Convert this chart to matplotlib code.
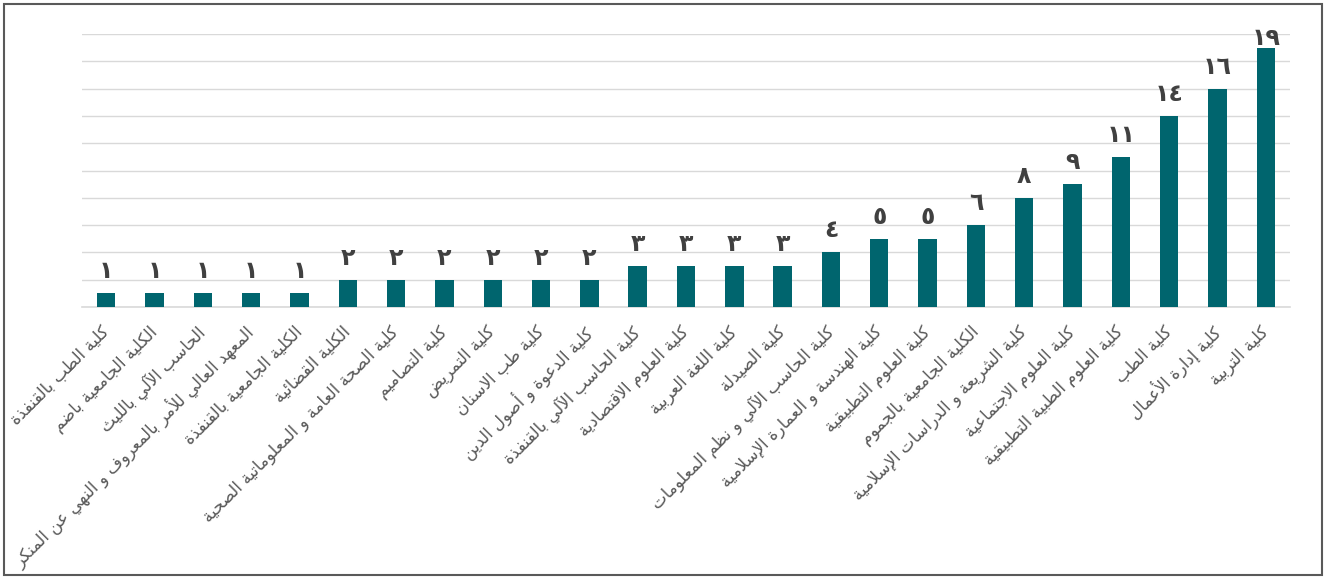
import matplotlib
matplotlib.use("Agg")
import matplotlib.pyplot as plt
from matplotlib.patches import Rectangle

# ---------------- data ----------------
categories = [
    "كلية الطب بالقنفذة",
    "الكلية الجامعية باضم",
    "الحاسب الآلي بالليث",
    "المعهد العالي للأمر بالمعروف و النهي عن المنكر",
    "الكلية الجامعية بالقنفذة",
    "الكلية القضائية",
    "كلية الصحة العامة و المعلوماتية الصحية",
    "كلية التصاميم",
    "كلية التمريض",
    "كلية طب الاسنان",
    "كلية الدعوة و أصول الدين",
    "كلية الحاسب الآلي بالقنفذة",
    "كلية العلوم الاقتصادية",
    "كلية اللغة العربية",
    "كلية الصيدلة",
    "كلية الحاسب الآلي و نظم المعلومات",
    "كلية الهندسة و العمارة الإسلامية",
    "كلية العلوم التطبيقية",
    "الكلية الجامعية بالجموم",
    "كلية الشريعة و الدراسات الإسلامية",
    "كلية العلوم الاجتماعية",
    "كلية العلوم الطبية التطبيقية",
    "كلية الطب",
    "كلية إدارة الأعمال",
    "كلية التربية",
]
values = [1, 1, 1, 1, 1, 2, 2, 2, 2, 2, 2, 3, 3, 3, 3, 4, 5, 5, 6, 8, 9, 11, 14, 16, 19]

# ---------------- Arabic shaping (presentation forms) ----------------
TABLE = {
    '\u0621': (0xFE80, 1), '\u0622': (0xFE81, 2), '\u0623': (0xFE83, 2),
    '\u0624': (0xFE85, 2), '\u0625': (0xFE87, 2), '\u0626': (0xFE89, 4),
    '\u0627': (0xFE8D, 2), '\u0628': (0xFE8F, 4), '\u0629': (0xFE93, 2),
    '\u062A': (0xFE95, 4), '\u062B': (0xFE99, 4), '\u062C': (0xFE9D, 4),
    '\u062D': (0xFEA1, 4), '\u062E': (0xFEA5, 4), '\u062F': (0xFEA9, 2),
    '\u0630': (0xFEAB, 2), '\u0631': (0xFEAD, 2), '\u0632': (0xFEAF, 2),
    '\u0633': (0xFEB1, 4), '\u0634': (0xFEB5, 4), '\u0635': (0xFEB9, 4),
    '\u0636': (0xFEBD, 4), '\u0637': (0xFEC1, 4), '\u0638': (0xFEC5, 4),
    '\u0639': (0xFEC9, 4), '\u063A': (0xFECD, 4), '\u0641': (0xFED1, 4),
    '\u0642': (0xFED5, 4), '\u0643': (0xFED9, 4), '\u0644': (0xFEDD, 4),
    '\u0645': (0xFEE1, 4), '\u0646': (0xFEE5, 4), '\u0647': (0xFEE9, 4),
    '\u0648': (0xFEED, 2), '\u0649': (0xFEEF, 2), '\u064A': (0xFEF1, 4),
}
LAMALEF = {'\u0622': 0xFEF5, '\u0623': 0xFEF7, '\u0625': 0xFEF9, '\u0627': 0xFEFB}


def shape(text):
    chars = list(text)
    n = len(chars)
    out = []
    i = 0

    def joins_next(c):
        return c in TABLE and TABLE[c][1] == 4

    while i < n:
        c = chars[i]
        if c not in TABLE:
            out.append(c)
            i += 1
            continue
        prev = chars[i - 1] if i > 0 else None
        prev_j = prev is not None and joins_next(prev)
        if c == '\u0644' and i + 1 < n and chars[i + 1] in LAMALEF:
            base = LAMALEF[chars[i + 1]]
            out.append(chr(base + (1 if prev_j else 0)))
            i += 2
            continue
        start, cnt = TABLE[c]
        nxt = chars[i + 1] if i + 1 < n else None
        next_j = cnt == 4 and nxt is not None and nxt in TABLE and nxt != '\u0621'
        if cnt == 1:
            form = start
        elif prev_j and next_j:
            form = start + 3
        elif prev_j:
            form = start + 1
        elif next_j:
            form = start + 2
        else:
            form = start
        out.append(chr(form))
        i += 1
    return ''.join(reversed(out))


def arabic_digits(v):
    return ''.join(chr(0x0660 + int(d)) for d in str(v))


# ---------------- plot ----------------
plt.rcParams['font.family'] = ['DejaVu Sans']
W, H = 1326, 579
fig = plt.figure(figsize=(W / 100, H / 100), dpi=100)
ax = fig.add_axes([82 / W, 1 - 307 / H, (1290 - 82) / W, (307 - 34) / H])

x = list(range(len(values)))
ax.bar(x, values, width=0.38, color='#00656E', zorder=3)

YMAX = 20
ax.set_xlim(-0.5, len(values) - 0.5)
ax.set_ylim(0, YMAX)
ax.set_yticks(range(0, YMAX + 1, 2))
ax.yaxis.grid(True, color='#D9D9D9', linewidth=1.0, zorder=0)
ax.tick_params(axis='y', left=False, labelleft=False)
ax.tick_params(axis='x', bottom=False, length=0)
for s in ['top', 'right', 'left']:
    ax.spines[s].set_visible(False)
ax.spines['bottom'].set_color('#D9D9D9')
ax.spines['bottom'].set_linewidth(1.2)

ax.set_xticks(x)
ax.set_xticklabels([shape(c) for c in categories], rotation=45, ha='right',
                   rotation_mode='anchor', fontsize=12, color='#595959')
for lbl in ax.get_xticklabels():
    lbl.set_verticalalignment('center')
ax.tick_params(axis='x', pad=16)

# data labels: above each bar, kept inside the plot area (Excel-like)
label_gap = 0.73          # in data units
label_cap = YMAX - 1.15   # highest allowed label baseline
for xi, v in zip(x, values):
    ax.text(xi, min(v + label_gap, label_cap), arabic_digits(v),
            ha='center', va='bottom', fontsize=17, fontweight='bold',
            color='#404040', zorder=4)

fig.patches.append(Rectangle((4 / W, 4 / H), (W - 8) / W, (H - 8) / H,
                             transform=fig.transFigure, fill=False,
                             edgecolor='#595959', linewidth=1.5))

fig.savefig('out.png', dpi=100)
